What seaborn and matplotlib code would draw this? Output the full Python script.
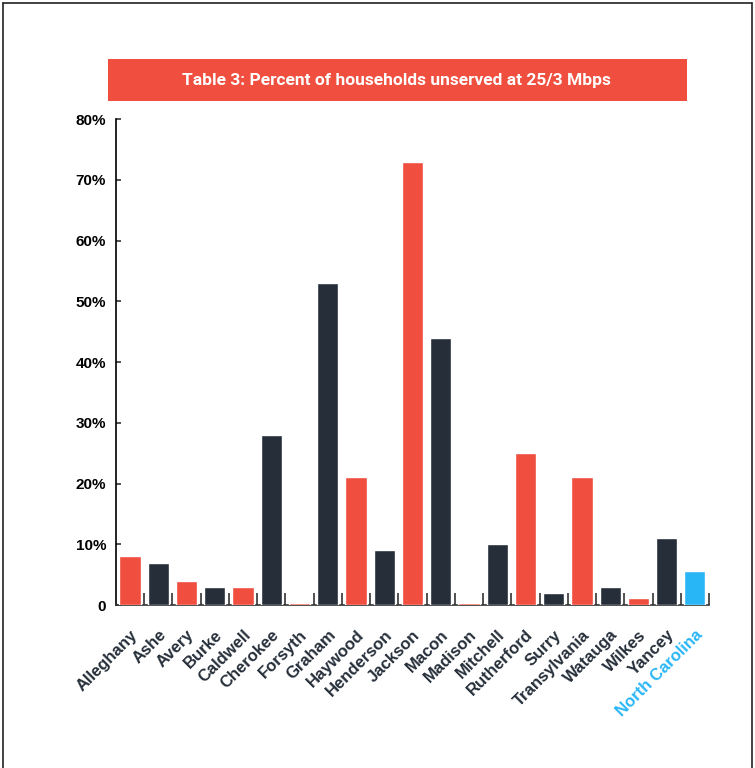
import matplotlib

matplotlib.use('Agg')
import matplotlib.pyplot as plt
import seaborn as sns
import pandas as pd
from matplotlib.lines import Line2D
from matplotlib.patches import Rectangle

# Percent of households unserved at 25/3 Mbps
counties = ['Alleghany', 'Ashe', 'Avery', 'Burke', 'Caldwell', 'Cherokee', 'Forsyth',
            'Graham', 'Haywood', 'Henderson', 'Jackson', 'Macon', 'Madison', 'Mitchell',
            'Rutherford', 'Surry', 'Transylvania', 'Watauga', 'Wilkes', 'Yancey',
            'North Carolina']
unserved = [8, 7, 4, 3, 3, 28, 0.3, 53, 21, 9, 73, 44, 0.3, 10, 25, 2, 21, 3, 1.1, 11, 5.6]
y_ticks = [0, 10, 20, 30, 40, 50, 60, 70, 80]
y_tick_labels = ['0', '10%', '20%', '30%', '40%', '50%', '60%', '70%', '80%']
title = 'Table 3: Percent of households unserved at 25/3 Mbps'

RED = '#F04E3E'
DARK = '#252E39'
BLUE = '#29B6F6'

palette = [RED if i % 2 == 0 else DARK for i in range(len(counties) - 1)] + [BLUE]

df = pd.DataFrame({'county': counties, 'pct': unserved})

sns.set_style('white')
plt.rcParams['font.family'] = ['Liberation Sans', 'DejaVu Sans']

fig = plt.figure(figsize=(7.55, 7.68), dpi=100)
ax = fig.add_axes([0.1536, 0.2122, 0.9391 - 0.1536, 0.845 - 0.2122])

sns.barplot(data=df, x='county', y='pct', hue='county', palette=palette,
            legend=False, width=0.75, saturation=1, ax=ax)
for bar in ax.patches:
    bar.set_zorder(3)

ax.set_xlim(-0.5, len(counties) - 0.5)
ax.set_ylim(0, 80)
ax.set_xlabel('')
ax.set_ylabel('')

# y axis: inward ticks, bold labels
ax.set_yticks(y_ticks)
ax.set_yticklabels(y_tick_labels, fontsize=11, fontweight='bold', color='black')
ax.tick_params(axis='y', direction='in', length=3.6, width=1.2, color='#333333', pad=7, left=True)

# x axis: labels at centres, ticks at category boundaries
ax.set_xticks(range(len(counties)))
ax.set_xticklabels(counties, rotation=45, ha='right', rotation_mode='anchor',
                   fontsize=12, fontweight='bold', color=DARK)
ax.get_xticklabels()[-1].set_color(BLUE)
ax.tick_params(axis='x', which='major', length=0, pad=16)
ax.set_xticks([i - 0.5 for i in range(1, len(counties) + 1)], minor=True)
ax.tick_params(axis='x', which='minor', direction='in', length=8.6, width=1.2,
               color='#333333', bottom=True)

for side in ['top', 'right']:
    ax.spines[side].set_visible(False)
ax.spines['left'].set_color('black')
ax.spines['left'].set_linewidth(1.2)
ax.spines['bottom'].set_color('#333333')
ax.spines['bottom'].set_linewidth(1.2)

# title banner
fig.patches.append(Rectangle((0.143, 0.8685), 0.767, 0.0545, transform=fig.transFigure,
                             facecolor=RED, edgecolor='none'))
fig.text(0.525, 0.8958, title, ha='center', va='center', color='white',
         fontsize=12.5, fontweight='bold', family=['Roboto', 'DejaVu Sans'])

# thin frame on top, left and right
frame = dict(transform=fig.transFigure, color='#222222', linewidth=1.2)
fig.lines.append(Line2D([0.004, 0.996], [0.996, 0.996], **frame))
fig.lines.append(Line2D([0.004, 0.004], [0.0, 0.996], **frame))
fig.lines.append(Line2D([0.996, 0.996], [0.0, 0.996], **frame))

fig.savefig('out.png', dpi=100)
